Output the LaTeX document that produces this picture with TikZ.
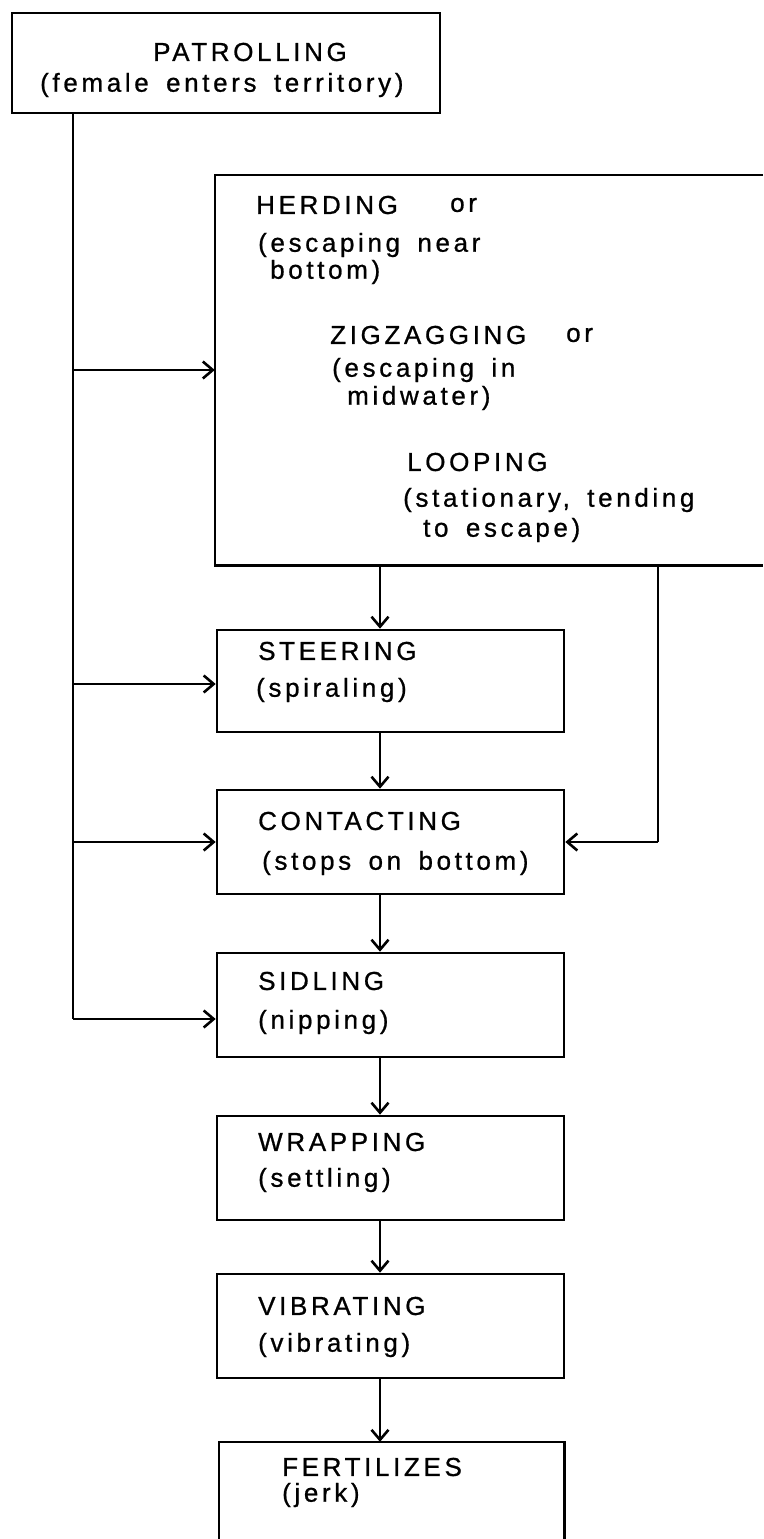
\documentclass[tikz,border=0pt]{standalone}
\usepackage{fontspec}
\newfontfamily\lsf[LetterSpace=14,FakeBold=0.8,WordSpace=1.6]{Liberation Sans}
\usetikzlibrary{arrows.meta}
\tikzset{
  box/.style={draw, line width=2.6pt, rectangle, inner sep=0pt, minimum width=347pt, minimum height=104pt},
  frame/.style={rectangle, inner sep=0pt},
  lbl/.style={font=\lsf\fontsize{26}{30}\selectfont, inner sep=0pt, anchor=west},
  ln/.style={line width=2.6pt},
  con/.style={line width=2.6pt, -{Straight Barb[length=10pt,width=17pt,line width=2.6pt]}},
}
\begin{document}
\begin{tikzpicture}[x=1pt,y=-1pt]
\fill[white] (0,0) rectangle (763,1539);
\useasboundingbox (0,0) rectangle (763,1539);

% boxes
\node[box, minimum width=428pt, minimum height=100pt] (patrol) at (226,63) {};
\node[frame, minimum width=548pt, minimum height=390pt] (big) at (489,370) {};
\draw[ln] (big.north east) -- (big.north west) -- (big.south west) -- (big.south east);
\node[box, minimum height=102pt] (steer) at (390.5,681) {};
\node[box] (contact) at (390.5,842) {};
\node[box] (sidl) at (390.5,1005) {};
\node[box] (wrap) at (390.5,1168) {};
\node[box] (vib) at (390.5,1326) {};
\node[frame, minimum width=345pt, minimum height=97pt] (fert) at (391.5,1490.5) {};
\draw[ln] (fert.south west) -- (fert.north west) -- (fert.north east) -- (fert.south east);

% texts
\node[lbl, anchor=center] (t1) at (250,52) {PATROLLING};
\node[lbl] (t2) at (40,85) {(female enters territory)};

\node[lbl] (h1) at (256,205) {HERDING};
\node[lbl] (h1o) at (450,205) {or};
\node[lbl] (h2) at (258,245) {(escaping near};
\node[lbl] (h3) at (270,272) {bottom)};
\node[lbl] (z1) at (330,335) {ZIGZAGGING};
\node[lbl] (z1o) at (566,335) {or};
\node[lbl] (z2) at (332,370) {(escaping in};
\node[lbl] (z3) at (347,398) {midwater)};
\node[lbl] (l1) at (407,462) {LOOPING};
\node[lbl] (l2) at (403,500) {(stationary, tending};
\node[lbl] (l3) at (423,530) {to escape)};

\node[lbl] (s1) at (258,651) {STEERING};
\node[lbl] (s2) at (256,690) {(spiraling)};
\node[lbl] (c1) at (258,821) {CONTACTING};
\node[lbl] (c2) at (262,863) {(stops on bottom)};
\node[lbl] (d1) at (258,981) {SIDLING};
\node[lbl] (d2) at (258,1022) {(nipping)};
\node[lbl] (w1) at (258,1142) {WRAPPING};
\node[lbl] (w2) at (258,1180) {(settling)};
\node[lbl] (v1) at (258,1306) {VIBRATING};
\node[lbl] (v2) at (258,1345) {(vibrating)};
\node[lbl] (f1) at (282,1467) {FERTILIZES};
\node[lbl] (f2) at (282,1495) {(jerk)};

% connectors
\coordinate (ax) at (380,0);
\coordinate (tTop) at (73,113);
\coordinate (b1) at (73,370);
\coordinate (b2) at (73,684);
\coordinate (b3) at (73,842);
\coordinate (b4) at (73,1019);
\coordinate (rTop) at (658,565);
\coordinate (rBot) at (658,842);

\draw[ln] (tTop) -- (b4);
\draw[con] (b1) -- (b1 -| big.west);
\draw[con] (b2) -- (b2 -| steer.west);
\draw[con] (b3) -- (b3 -| contact.west);
\draw[con] (b4) -- (b4 -| sidl.west);

\draw[con] (big.south -| ax) -- (steer.north -| ax);
\draw[con] (steer.south -| ax) -- (contact.north -| ax);
\draw[con] (contact.south -| ax) -- (sidl.north -| ax);
\draw[con] (sidl.south -| ax) -- (wrap.north -| ax);
\draw[con] (wrap.south -| ax) -- (vib.north -| ax);
\draw[con] (vib.south -| ax) -- (fert.north -| ax);

\draw[ln] (rTop) -- (rBot);
\draw[con] (rBot) -- (contact.east |- rBot);
\end{tikzpicture}
\end{document}
